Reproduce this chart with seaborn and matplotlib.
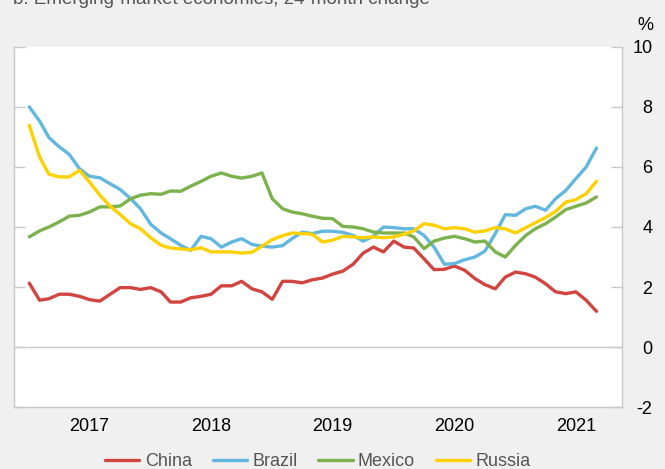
import numpy as np
import pandas as pd
import seaborn as sns
import matplotlib.pyplot as plt
import matplotlib.dates as mdates
from matplotlib.ticker import FuncFormatter, NullFormatter

# Monthly 24-month change (%), Jan 2017 to Sep 2021
dates = pd.date_range("2017-01-01", periods=57, freq="MS")

china = [2.13, 1.56, 1.61, 1.76, 1.76, 1.69, 1.58, 1.53, 1.76, 1.98,
         1.98, 1.92, 1.98, 1.84, 1.50, 1.50, 1.64, 1.69, 1.76, 2.04,
         2.04, 2.19, 1.94, 1.84, 1.59, 2.19, 2.19, 2.14, 2.24, 2.30,
         2.43, 2.53, 2.76, 3.13, 3.33, 3.17, 3.53, 3.33, 3.30, 2.94,
         2.58, 2.59, 2.70, 2.56, 2.28, 2.08, 1.94, 2.33, 2.50, 2.44,
         2.33, 2.11, 1.84, 1.78, 1.84, 1.56, 1.19]
brazil = [8.00, 7.53, 6.98, 6.67, 6.42, 5.94, 5.69, 5.64, 5.44, 5.25,
          4.95, 4.61, 4.09, 3.80, 3.61, 3.39, 3.22, 3.69, 3.61, 3.33,
          3.50, 3.61, 3.42, 3.36, 3.33, 3.38, 3.61, 3.83, 3.78, 3.86,
          3.86, 3.82, 3.72, 3.53, 3.69, 4.00, 3.98, 3.94, 3.94, 3.72,
          3.33, 2.76, 2.78, 2.91, 3.00, 3.20, 3.78, 4.41, 4.39, 4.61,
          4.69, 4.56, 4.94, 5.22, 5.61, 6.00, 6.63]
mexico = [3.67, 3.87, 4.00, 4.17, 4.36, 4.39, 4.50, 4.67, 4.67, 4.70,
          4.94, 5.06, 5.11, 5.09, 5.20, 5.19, 5.36, 5.52, 5.69, 5.80,
          5.69, 5.63, 5.69, 5.80, 4.94, 4.61, 4.50, 4.44, 4.36, 4.29,
          4.28, 4.02, 4.00, 3.94, 3.83, 3.80, 3.80, 3.80, 3.67, 3.28,
          3.53, 3.63, 3.69, 3.61, 3.50, 3.53, 3.17, 3.00, 3.39, 3.72,
          3.94, 4.11, 4.33, 4.58, 4.69, 4.80, 5.00]
russia = [7.39, 6.33, 5.76, 5.67, 5.67, 5.89, 5.50, 5.06, 4.69, 4.42,
          4.11, 3.94, 3.64, 3.39, 3.30, 3.27, 3.24, 3.31, 3.17, 3.17,
          3.17, 3.13, 3.16, 3.36, 3.58, 3.71, 3.80, 3.78, 3.76, 3.50,
          3.56, 3.69, 3.67, 3.64, 3.67, 3.64, 3.67, 3.76, 3.87, 4.11,
          4.06, 3.94, 3.98, 3.94, 3.83, 3.87, 3.98, 3.94, 3.80, 3.98,
          4.14, 4.31, 4.52, 4.83, 4.91, 5.11, 5.52]

countries = ["China", "Brazil", "Mexico", "Russia"]
colors = ["#d2443f", "#62b7df", "#7cb24e", "#fdd000"]
yticks = [-2, 0, 2, 4, 6, 8, 10]

df = pd.DataFrame({"date": dates, "China": china, "Brazil": brazil,
                   "Mexico": mexico, "Russia": russia})
long_df = df.melt(id_vars="date", var_name="country", value_name="value")

sns.set_theme(style="white")
plt.rcParams["font.family"] = ["Liberation Sans", "DejaVu Sans"]
plt.rcParams["axes.unicode_minus"] = False

grey = "#c8c8c8"
fig = plt.figure(figsize=(6.65, 4.69), dpi=100, facecolor="#f0f0f0")
ax = fig.add_axes([0.021, 0.132, 0.914, 0.768])
ax.set_facecolor("white")

sns.lineplot(data=long_df, x="date", y="value", hue="country",
             hue_order=countries, palette=colors, linewidth=2.4, ax=ax)

ax.axhline(0, color=grey, lw=1, zorder=0)

# axes limits
ax.set_ylim(-2, 10)
ax.set_xlim(pd.Timestamp("2016-11-16"), pd.Timestamp("2021-11-16"))

# spines
ax.spines["top"].set_visible(False)
for s in ["left", "right", "bottom"]:
    ax.spines[s].set_color(grey)
    ax.spines[s].set_linewidth(1)

# y ticks: both sides, labels right
ax.set_yticks(yticks)
ax.yaxis.tick_right()
ax.tick_params(axis="y", which="major", direction="in", length=8, width=1,
               color=grey, left=True, right=True, labelleft=False,
               labelright=True, labelsize=13, labelcolor="black", pad=22)
for lab in ax.get_yticklabels():
    lab.set_horizontalalignment("right")

# x ticks: long at year start, short at quarters, year label mid-year
ax.xaxis.set_major_locator(mdates.YearLocator())
ax.xaxis.set_major_formatter(NullFormatter())
ax.xaxis.set_minor_locator(mdates.MonthLocator(bymonth=[4, 7, 10]))
ax.xaxis.set_minor_formatter(FuncFormatter(
    lambda v, p: str(mdates.num2date(v).year) if mdates.num2date(v).month == 7 else ""))
ax.tick_params(axis="x", which="major", direction="in", length=12, width=1,
               color=grey)
ax.tick_params(axis="x", which="minor", direction="in", length=5, width=1,
               color=grey, labelsize=13, labelcolor="black", pad=8)
ax.set_xlabel("")
ax.set_ylabel("")

# legend below plot
handles, labels = ax.get_legend_handles_labels()
leg = ax.legend(handles, labels, loc="center", bbox_to_anchor=(0.5, -0.152),
                ncol=4, frameon=False, fontsize=13, handlelength=1.9,
                handletextpad=0.3, columnspacing=1.15)
for t in leg.get_texts():
    t.set_color("#555555")

fig.text(0.970, 0.945, "%", fontsize=13, color="black", ha="center", va="center")
fig.text(0.02, 0.9915, "b. Emerging-market economies, 24-month change",
         fontsize=13.5, color="#555555", ha="left", va="baseline")

fig.savefig("out.png", dpi=100, facecolor=fig.get_facecolor())
